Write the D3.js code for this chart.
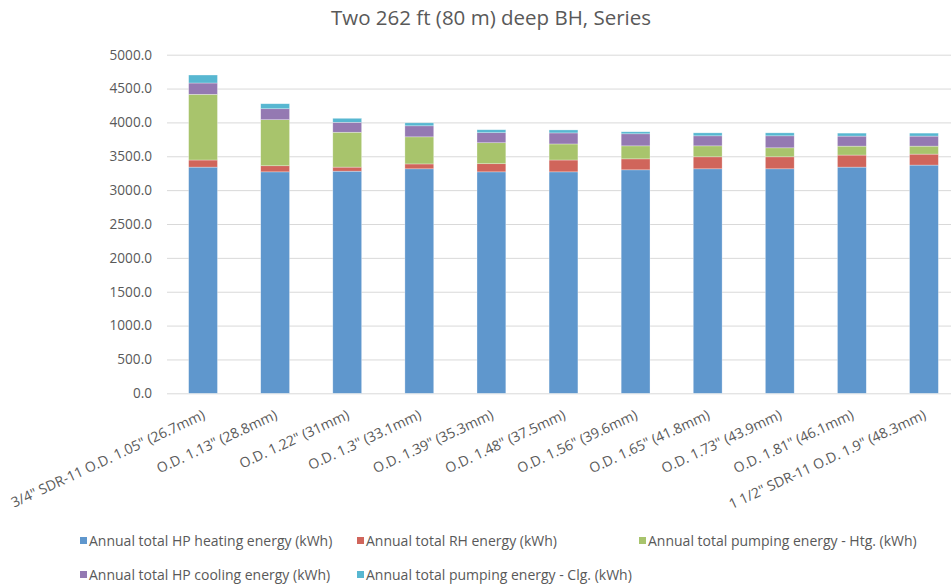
<!DOCTYPE html>
<html lang="en">
<head>
  <meta charset="UTF-8">
  <script src="https://cdn.jsdelivr.net/npm/d3@7"></script>
  <title>Two 262 ft (80 m) deep BH, Series</title>
  <style>
    body { margin: 0; background: #fff; }
    * { font-family: 'Open Sans', sans-serif; }
    text { fill: #595959; }
    .grid line { stroke: #d9d9d9; }
    .grid .domain { display: none; }
    .x-axis .domain, .x-axis .tick line { display: none; }
    .y-axis .domain, .y-axis .tick line { display: none; }
  </style>
</head>
<body>
<script>
  const categories = [
    '3/4" SDR-11 O.D. 1.05" (26.7mm)',
    'O.D. 1.13" (28.8mm)',
    'O.D. 1.22" (31mm)',
    'O.D. 1.3" (33.1mm)',
    'O.D. 1.39" (35.3mm)',
    'O.D. 1.48" (37.5mm)',
    'O.D. 1.56" (39.6mm)',
    'O.D. 1.65" (41.8mm)',
    'O.D. 1.73" (43.9mm)',
    'O.D. 1.81" (46.1mm)',
    '1 1/2" SDR-11  O.D. 1.9" (48.3mm)'
  ];
  const seriesNames = [
    'Annual total HP heating energy (kWh)',
    'Annual total RH energy (kWh)',
    'Annual total pumping energy - Htg. (kWh)',
    'Annual total HP cooling energy (kWh)',
    'Annual total pumping energy - Clg. (kWh)'
  ];
  const hpHeating = [3340, 3270, 3280, 3315, 3270, 3270, 3300, 3315, 3315, 3340, 3370];
  const rhEnergy = [105, 90, 60, 72, 120, 175, 162, 177, 177, 178, 162];
  const pumpHtg = [970, 680, 515, 400, 310, 237, 192, 162, 133, 132, 118];
  const hpCooling = [167, 162, 147, 163, 148, 163, 178, 148, 177, 148, 148];
  const pumpClg = [118, 74, 59, 44, 44, 44, 30, 44, 44, 44, 44];
  const yTicks = [0, 500, 1000, 1500, 2000, 2500, 3000, 3500, 4000, 4500, 5000];
  const colors = ['#5f97cd', '#d0655b', '#a8c46c', '#9479b2', '#57b7d1'];

  const width = 951, height = 586;
  const plotLeft = 167, plotRight = 960, plotTop = 54.7, plotBottom = 393.3;

  const rows = categories.map((c, i) => ({
    cat: c, s0: hpHeating[i], s1: rhEnergy[i], s2: pumpHtg[i], s3: hpCooling[i], s4: pumpClg[i]
  }));
  const stack = d3.stack().keys(['s0', 's1', 's2', 's3', 's4'])(rows);

  const x = d3.scaleBand().domain(categories).range([plotLeft, plotRight]).paddingInner(0.6).paddingOuter(0.3);
  const y = d3.scaleLinear().domain([0, 5000]).range([plotBottom, plotTop]);

  const svg = d3.select('body').append('svg').attr('width', width).attr('height', height);

  svg.append('text').attr('x', 491).attr('y', 25).attr('text-anchor', 'middle')
    .style('font-size', '20.5px').text('Two 262 ft (80 m) deep BH, Series');

  svg.append('g').attr('class', 'grid').attr('transform', `translate(${plotLeft},0)`)
    .call(d3.axisRight(y).tickValues(yTicks).tickSize(plotRight - plotLeft).tickFormat(''));

  svg.append('g').attr('class', 'y-axis').attr('transform', `translate(${plotLeft - 15},0)`)
    .call(d3.axisLeft(y).tickValues(yTicks).tickSize(0).tickPadding(0).tickFormat(d3.format('.1f')))
    .selectAll('text').style('font-size', '13.6px');

  svg.append('g').selectAll('g').data(stack).enter().append('g')
    .attr('fill', (d, i) => colors[i])
    .selectAll('rect').data(d => d).enter().append('rect')
    .attr('x', d => x(d.data.cat)).attr('width', x.bandwidth())
    .attr('y', d => y(d[1])).attr('height', d => y(d[0]) - y(d[1]))
    .attr('stroke', 'rgba(255,255,255,0.5)').attr('stroke-width', 0.6);

  const xa = svg.append('g').attr('class', 'x-axis').attr('transform', `translate(0,${plotBottom})`)
    .call(d3.axisBottom(x).tickSize(0).tickPadding(0));
  xa.selectAll('text')
    .attr('text-anchor', 'end').attr('y', 0).attr('dy', 0)
    .attr('transform', 'translate(3,25) rotate(-25)')
    .style('font-size', '14px');

  const legendPos = [[80, 541], [357, 541], [639, 541], [80, 575], [357, 575]];
  const lg = svg.append('g').selectAll('g').data(seriesNames).enter().append('g')
    .attr('transform', (d, i) => `translate(${legendPos[i][0]},${legendPos[i][1]})`);
  lg.append('rect').attr('x', 0).attr('y', -4).attr('width', 7).attr('height', 7)
    .attr('fill', (d, i) => colors[i]);
  lg.append('text').attr('x', 9).attr('y', 0).attr('dy', '0.35em')
    .style('font-size', '14px').text(d => d);
</script>
</body>
</html>
